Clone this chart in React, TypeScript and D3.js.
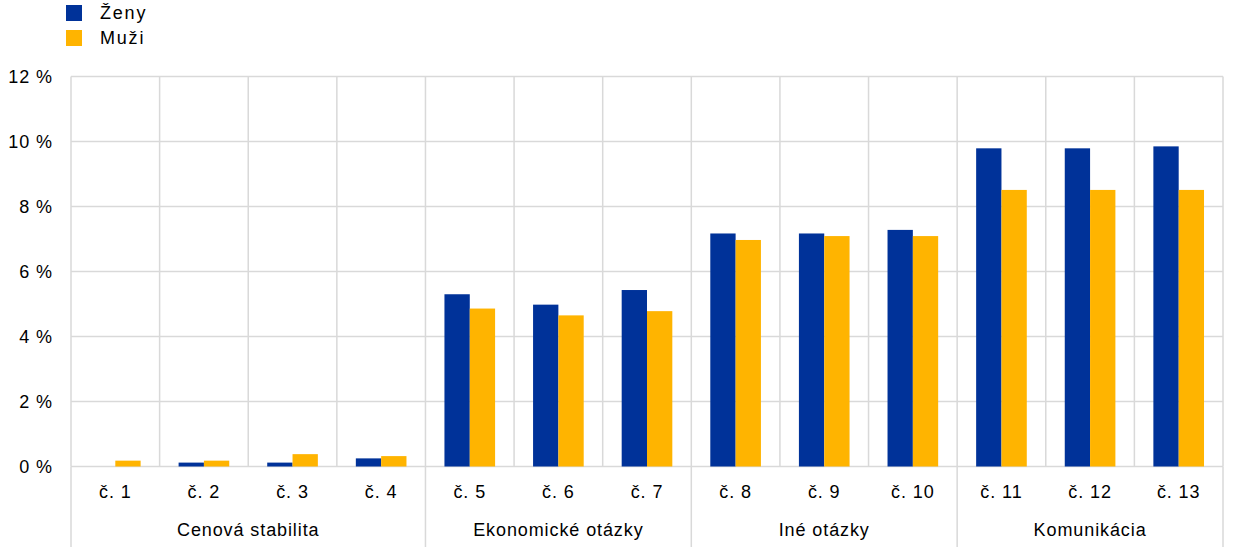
import React from "react";
import * as d3 from "d3";

const categories = ["č. 1", "č. 2", "č. 3", "č. 4", "č. 5", "č. 6", "č. 7", "č. 8", "č. 9", "č. 10", "č. 11", "č. 12", "č. 13"];
const groups = ["Cenová stabilita", "Ekonomické otázky", "Iné otázky", "Komunikácia"];
const groupSizes = [4, 3, 3, 3];
const zeny = [0, 0.12, 0.12, 0.25, 5.3, 4.98, 5.43, 7.17, 7.17, 7.28, 9.79, 9.79, 9.85];
const muzi = [0.18, 0.18, 0.38, 0.32, 4.86, 4.65, 4.78, 6.97, 7.09, 7.09, 8.51, 8.51, 8.51];
const yTicks = [0, 2, 4, 6, 8, 10, 12];
const seriesNames = ["Ženy", "Muži"];
const colors = ["#003299", "#FFB400"];

export default function App() {
  const W = 1240, H = 547;
  const left = 71, right = 1223, top = 76.5, bottom = 466.5;
  const x = d3.scaleBand<string>().domain(categories).range([left, right]).paddingInner(0).paddingOuter(0);
  const y = d3.scaleLinear().domain([0, 12]).range([bottom, top]);
  const bw = x.bandwidth() / 3.5;
  const font = "Liberation Sans, Arial, sans-serif";
  const grid = "#d9d9d9";
  const fs = 18;
  const ls = 0.9;

  let idx = 0;
  const groupSpans = groupSizes.map((n, i) => {
    const x0 = x(categories[idx])!;
    const x1 = x(categories[idx + n - 1])! + x.bandwidth();
    idx += n;
    return { name: groups[i], x0, x1 };
  });

  return (
    <svg width={W} height={H} style={{ position: "absolute", left: 0, top: 0 }} fontFamily={font}>
      {yTicks.map((t) => (
        <line key={"h" + t} x1={left} x2={right} y1={y(t)} y2={y(t)} stroke={grid} strokeWidth={1.5} />
      ))}
      {categories.map((c, i) => (
        <line key={"v" + i} x1={x(c)!} x2={x(c)!} y1={top} y2={bottom} stroke={grid} strokeWidth={1.5} />
      ))}
      <line x1={right} x2={right} y1={top} y2={bottom} stroke={grid} strokeWidth={1.5} />
      {groupSpans.map((g, i) => (
        <line key={"g" + i} x1={g.x0} x2={g.x0} y1={bottom} y2={H} stroke={grid} strokeWidth={1.5} />
      ))}
      <line x1={right} x2={right} y1={bottom} y2={H} stroke={grid} strokeWidth={1.5} />
      {categories.map((c, i) => {
        const cx = x(c)! + x.bandwidth() / 2;
        return (
          <g key={"b" + i}>
            {zeny[i] > 0 && (
              <rect x={cx - bw} y={y(zeny[i])} width={bw} height={y(0) - y(zeny[i])} fill={colors[0]} />
            )}
            <rect x={cx} y={y(muzi[i])} width={bw} height={y(0) - y(muzi[i])} fill={colors[1]} />
          </g>
        );
      })}
      {yTicks.map((t) => (
        <text key={"yl" + t} x={53} y={y(t)} dy="0.35em" textAnchor="end" fontSize={fs} letterSpacing={ls} fill="#000">
          {t} %
        </text>
      ))}
      {categories.map((c) => (
        <text key={"cl" + c} x={x(c)! + x.bandwidth() / 2} y={492} dy="0.35em" textAnchor="middle" fontSize={fs} letterSpacing={ls} fill="#000">
          {c}
        </text>
      ))}
      {groupSpans.map((g) => (
        <text key={"gl" + g.name} x={(g.x0 + g.x1) / 2} y={530} dy="0.35em" textAnchor="middle" fontSize={fs} letterSpacing={ls} fill="#000">
          {g.name}
        </text>
      ))}
      {seriesNames.map((s, i) => (
        <g key={"lg" + s}>
          <rect x={66} y={5 + i * 25} width={16} height={16} fill={colors[i]} />
          <text x={100} y={13 + i * 25} dy="0.35em" fontSize={fs} letterSpacing={1.8} fill="#000">
            {s}
          </text>
        </g>
      ))}
    </svg>
  );
}
